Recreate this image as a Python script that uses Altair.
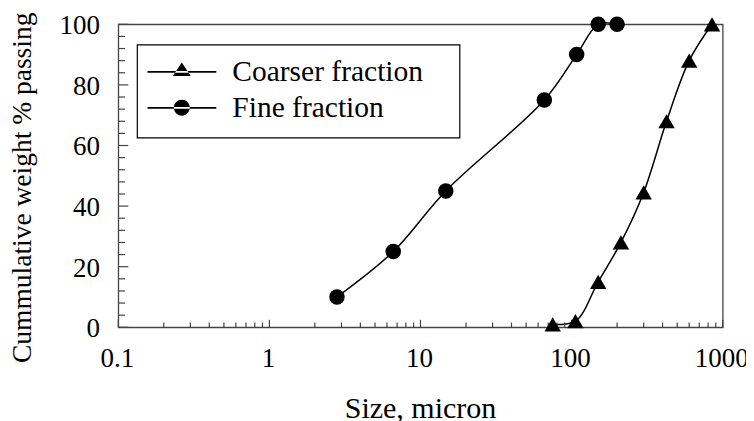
import altair as alt
import pandas as pd

# ---- data ----
series_names = ["Coarser fraction", "Fine fraction"]
coarse_size = [75, 106, 150, 212, 300, 425, 600, 850]
coarse_pass = [1, 2, 15, 28, 44.5, 68, 88, 100]
fine_size = [2.8, 6.6, 14.7, 66, 108, 150, 200]
fine_pass = [10, 25, 45, 75, 90, 100, 100]

x_major = [0.1, 1, 10, 100, 1000]
x_labels = ["0.1", "1", "10", "100", "1000"]
x_minor = [round(m * 10 ** e, 6) for e in range(-1, 3) for m in range(2, 10)]
y_major = [0, 20, 40, 60, 80, 100]
y_labels = ["0", "20", "40", "60", "80", "100"]
y_minor = [v for v in range(0, 101, 4) if v % 20 != 0]

X_TITLE = "Size, micron"
Y_TITLE = "Cummulative weight % passing"

# ---- layout ----
W = 604.4
H = 303.0
FONT = "Liberation Serif"
AX = "#444444"

df = pd.DataFrame(
    {
        "series": [series_names[0]] * len(coarse_size) + [series_names[1]] * len(fine_size),
        "size": coarse_size + fine_size,
        "pass": coarse_pass + fine_pass,
    }
)

xscale = alt.Scale(type="log", domain=[0.1, 1000], nice=False)
yscale = alt.Scale(domain=[0, 100], nice=False, zero=False)
X = lambda f="size:Q": alt.X(f, scale=xscale, axis=None)
Y = lambda f="pass:Q": alt.Y(f, scale=yscale, axis=None)

base = alt.Chart(df)

lines = base.mark_line(color="black", strokeWidth=1.5, interpolate="catmull-rom").encode(
    x=X(), y=Y(), detail="series:N"
)

points = base.mark_point(filled=True, color="black", opacity=1).encode(
    x=X(),
    y=Y(),
    shape=alt.Shape(
        "series:N",
        scale=alt.Scale(domain=series_names, range=["triangle-up", "circle"]),
        legend=None,
    ),
    size=alt.Size(
        "series:N",
        scale=alt.Scale(domain=series_names, range=[270, 240]),
        legend=None,
    ),
)

# white legend panel with black frame (decoration behind the legend)
box = alt.Chart(pd.DataFrame({"k": [0]})).mark_rect(
    fill="white", stroke="black", strokeWidth=1.2
).encode(x=alt.value(19), x2=alt.value(341.5), y=alt.value(20.5), y2=alt.value(113.5))

LINE = "M-1,-0.024L1,-0.024L1,0.024L-1,0.024Z"
TRI = LINE + "M0,-0.27L-0.26,0.12L0.26,0.12Z"
CIR = LINE + "M-0.23,0A0.23,0.23,0,1,0,0.23,0A0.23,0.23,0,1,0,-0.23,0Z"

legend_layer = base.mark_point(filled=True, color="black", opacity=0).encode(
    x=X(),
    y=Y(),
    shape=alt.Shape(
        "series:N",
        scale=alt.Scale(domain=series_names, range=[TRI, CIR]),
        legend=alt.Legend(
            title=None,
            orient="none",
            legendX=19,
            legendY=20.5,
            padding=10,
            symbolSize=4761,
            symbolOpacity=1,
            symbolFillColor="black",
            symbolStrokeColor="black",
            symbolStrokeWidth=0,
            clipHeight=34,
            rowPadding=2,
            labelFont=FONT,
            labelFontSize=29.5,
            labelColor="black",
            labelOffset=16,
            labelLimit=400,
        ),
    ),
)

# inward tick marks (positions from the scales)
xmaj = alt.Chart(pd.DataFrame({"size": x_major})).mark_rule(color=AX, strokeWidth=1.2).encode(
    x=X(), y=alt.value(H), y2=alt.value(H - 7.5)
)
xmin = alt.Chart(pd.DataFrame({"size": x_minor})).mark_rule(color=AX, strokeWidth=1.2).encode(
    x=X(), y=alt.value(H), y2=alt.value(H - 4.7)
)
ymaj = alt.Chart(pd.DataFrame({"pass": y_major})).mark_rule(color=AX, strokeWidth=1.2).encode(
    y=Y(), x=alt.value(0), x2=alt.value(10)
)
ymin = alt.Chart(pd.DataFrame({"pass": y_minor})).mark_rule(color=AX, strokeWidth=1.2).encode(
    y=Y(), x=alt.value(0), x2=alt.value(6.7)
)

# tick labels (positions from the scales)
xlab = alt.Chart(pd.DataFrame({"size": x_major, "lab": x_labels})).mark_text(
    font=FONT, fontSize=27, color="black", align="center", baseline="alphabetic", dx=-1
).encode(x=X(), y=alt.value(H + 39.4), text="lab:N")
ylab = alt.Chart(pd.DataFrame({"pass": y_major, "lab": y_labels})).mark_text(
    font=FONT, fontSize=27, color="black", align="right", baseline="alphabetic", dy=10
).encode(y=Y(), x=alt.value(-18.3), text="lab:N")

# axis titles
one = pd.DataFrame({"k": [0]})
xtitle = alt.Chart(one).mark_text(
    text=X_TITLE, font=FONT, fontSize=30, color="black", align="center", baseline="alphabetic"
).encode(x=alt.value(W / 2), y=alt.value(H + 91))
ytitle = alt.Chart(one).mark_text(
    text=Y_TITLE, font=FONT, fontSize=27.5, color="black", align="center",
    baseline="alphabetic", angle=270
).encode(x=alt.value(-87), y=alt.value(163.5))

chart = (
    alt.layer(lines, xmin, xmaj, ymin, ymaj, points, box, legend_layer, xlab, ylab, xtitle, ytitle)
    .resolve_scale(shape="independent", size="independent")
    .properties(
        width=W,
        height=H,
        autosize=alt.AutoSizeParams(type="none"),
        padding={"left": 110.3, "top": 16.3, "right": 23.3, "bottom": 96},
        background="white",
    )
    .configure(font=FONT)
    .configure_view(stroke=AX, strokeWidth=1.3)
)

chart.save("out.html", embed_options={"renderer": "svg", "actions": False})
